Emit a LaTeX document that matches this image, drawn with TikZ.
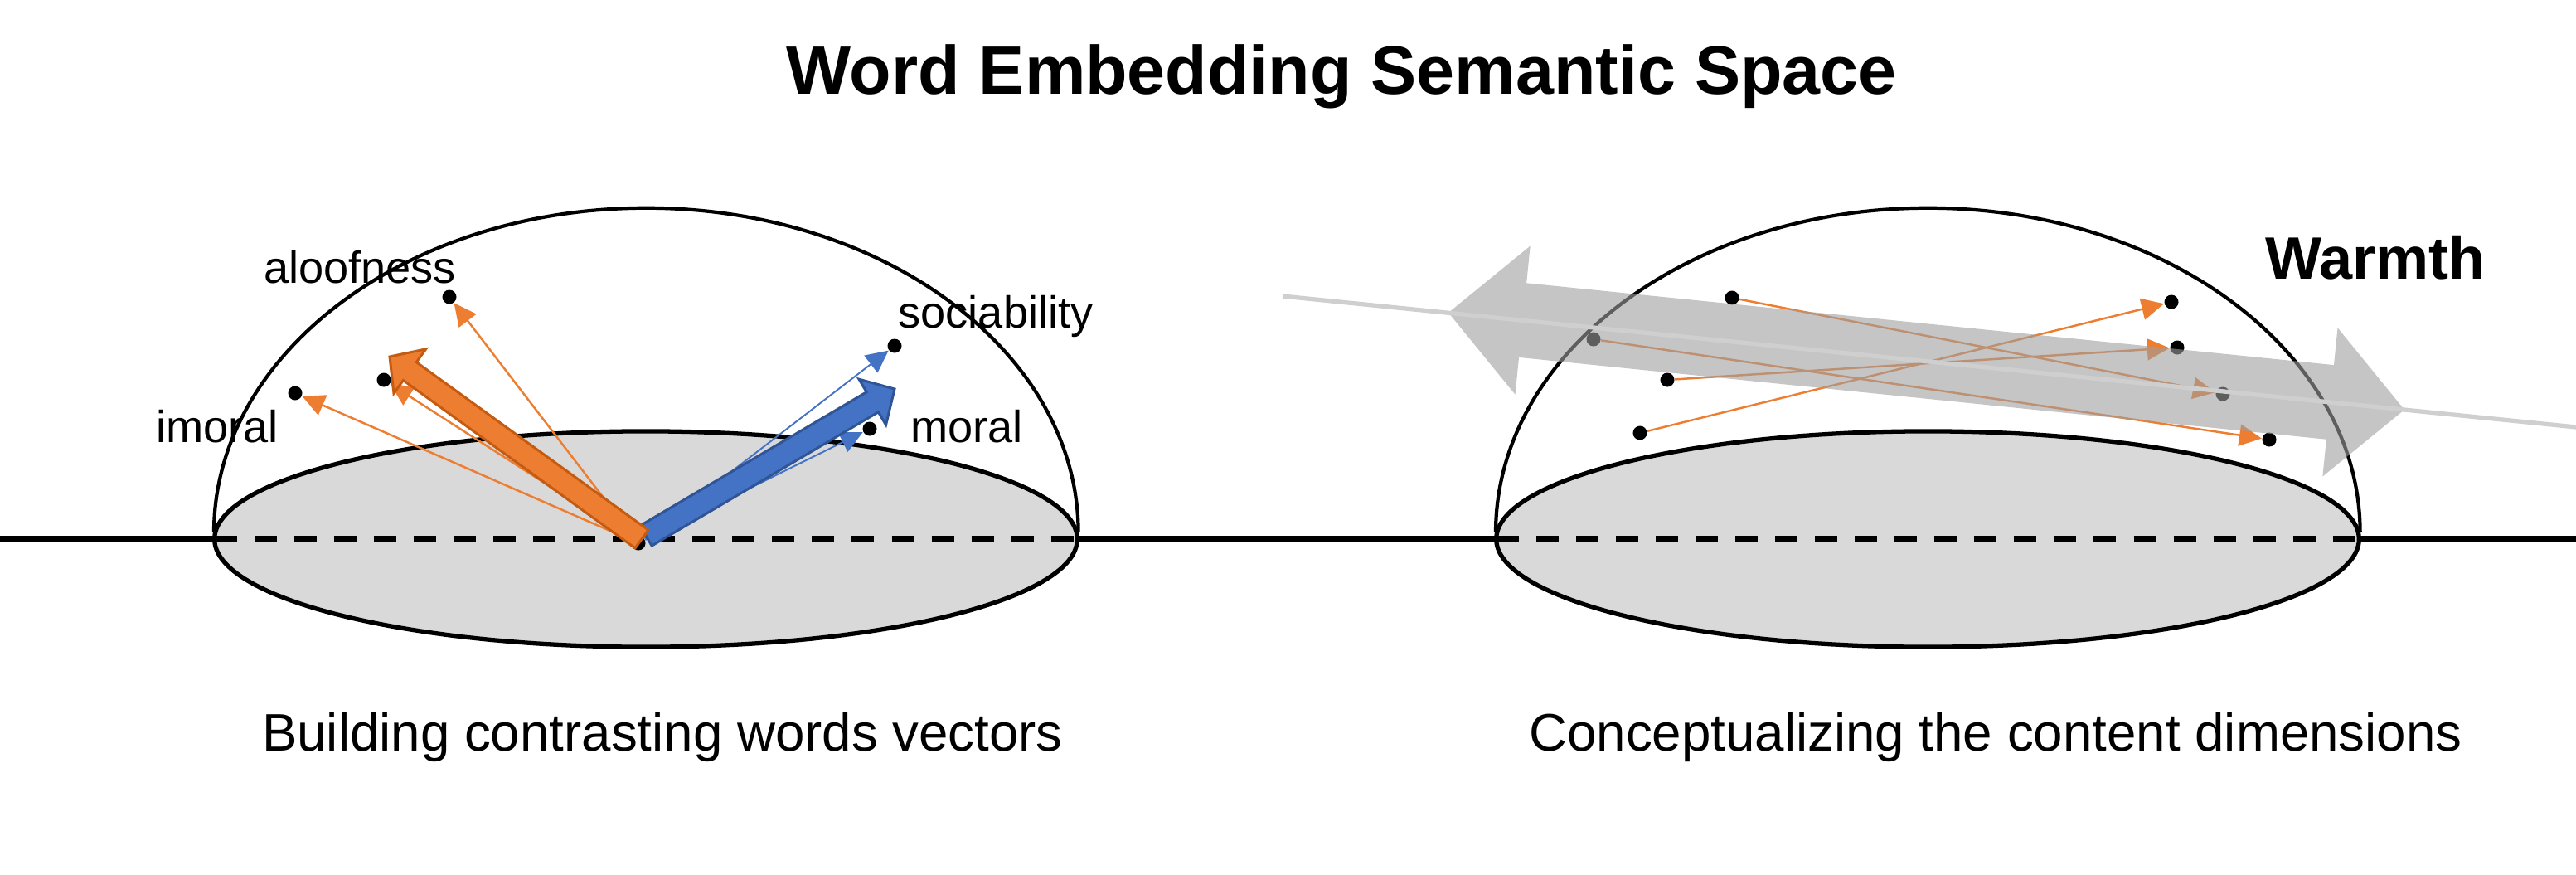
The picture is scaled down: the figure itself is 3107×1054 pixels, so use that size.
\documentclass[tikz,border=0pt]{standalone}
\usepackage{fontspec}
\setmainfont{Liberation Sans}
\usetikzlibrary{arrows.meta, calc}
\definecolor{vec-orange}{HTML}{ED7D31}
\definecolor{vec-orange-dark}{HTML}{C55A11}
\definecolor{vec-blue}{HTML}{4472C4}
\definecolor{vec-blue-dark}{HTML}{2F5597}
\definecolor{plane-grey}{HTML}{D9D9D9}
\definecolor{axis-grey}{HTML}{9E9E9E}
\definecolor{axis-line}{HTML}{CFCFCF}

% fat arrow: style, tail, tip, half shaft, half head, head length
\newcommand{\fatarrow}[6]{%
  \coordinate (fa_base) at ($(#3)!#6!(#2)$);
  \draw[#1] ($(#2)!#4!90:(#3)$) -- ($(fa_base)!#4!90:(#3)$) -- ($(fa_base)!#5!90:(#3)$) -- (#3)
    -- ($(fa_base)!#5!-90:(#3)$) -- ($(fa_base)!#4!-90:(#3)$) -- ($(#2)!#4!-90:(#3)$) -- cycle;
}

\tikzset{%
    dome/.style={%
        draw,
        line width=1.2pt,
    },
    plane/.style={%
        draw,
        fill=plane-grey,
        line width=1.5pt,
    },
    ground/.style={%
        line width=2.1pt,
    },
    hidden/.style={%
        ground,
        dash pattern=on 0.27cm off 0.21cm,
    },
    wdot/.style={%
        circle,
        fill=black,
        inner sep=0pt,
        minimum size=0.17cm,
    },
    thinvec/.style={%
        ->,
        >={Triangle[length=0.27cm, width=0.26cm]},
        line width=0.7pt,
    },
    orangevec/.style={%
        thinvec,
        vec-orange,
    },
    bluevec/.style={%
        thinvec,
        vec-blue,
        line width=0.55pt,
    },
    fatorange/.style={%
        fill=vec-orange,
        draw=vec-orange-dark,
        line width=0.85pt,
    },
    fatblue/.style={%
        fill=vec-blue,
        draw=vec-blue-dark,
        line width=0.85pt,
    },
    dimaxis/.style={%
        fill=axis-grey,
        fill opacity=0.6,
    },
    axisline/.style={%
        draw=axis-line,
        line width=1.5pt,
    },
    wordlabel/.style={%
        inner sep=0pt,
        anchor=base,
        font=\fontsize{15.4}{18}\selectfont,
    },
    dimlabel/.style={%
        inner sep=0pt,
        anchor=base,
        font=\fontsize{20.5}{24}\selectfont\bfseries,
    },
    figcaption/.style={%
        inner sep=0pt,
        anchor=base,
        font=\fontsize{18.1}{22}\selectfont,
    },
    headline/.style={%
        inner sep=0pt,
        anchor=base,
        font=\fontsize{23.5}{28}\selectfont\bfseries,
    },
}

\begin{document}
\begin{tikzpicture}[x=0.01cm, y=-0.01cm]
  \useasboundingbox (0,0) rectangle (3107,1054);

  % the two half spaces
  \foreach \cx in {779, 2325} {
    \draw[plane] (\cx,650) ellipse [x radius=5.2cm, y radius=1.3cm];
    \draw[hidden] (\cx-520,650) -- (\cx+520,650);
    \draw[dome] (\cx-521,642) arc [start angle=180, end angle=0, x radius=5.21cm, y radius=3.91cm];
  }
  \draw[ground] (0,650) -- (259,650) (1299,650) -- (1805,650) (2845,650) -- (3107,650);

  % left: contrasting words
  \node [wdot] at (770,655) (orig) {};
  \node [wdot] at (542,358) (aloof) {};
  \node [wdot] at (356,474) (imor) {};
  \node [wdot] at (463,458) (aloof2) {};
  \node [wdot] at (1079,417) (socia) {};
  \node [wdot] at (1049,517) (mor) {};

  \draw[orangevec] (orig) -- (aloof);
  \draw[orangevec] (orig) -- (imor);
  \draw[orangevec] (orig) -- (aloof2);
  \draw[bluevec] (orig) -- (socia);
  \draw[bluevec] (orig) -- (mor);

  \coordinate (blue_tail) at (779,646);
  \coordinate (blue_tip) at (1079,469);
  \coordinate (orange_tail) at (774,650);
  \coordinate (orange_tip) at (470,430);
  \fatarrow{fatblue}{blue_tail}{blue_tip}{0.14cm}{0.32cm}{0.31cm}
  \fatarrow{fatorange}{orange_tail}{orange_tip}{0.135cm}{0.33cm}{0.3cm}

  \node [wordlabel] at (434,341) (lbl_aloof) {aloofness};
  \node [wordlabel] at (262,533) (lbl_imor) {imoral};
  \node [wordlabel] at (1201,395) (lbl_socia) {sociability};
  \node [wordlabel] at (1166,533) (lbl_mor) {moral};

  % right: content dimension
  \node [wdot] at (2089,359) (w1) {};
  \node [wdot] at (1922,409) (w2) {};
  \node [wdot] at (2011,458) (w3) {};
  \node [wdot] at (1978,522) (w4) {};
  \node [wdot] at (2619,364) (c1) {};
  \node [wdot] at (2626,419) (c2) {};
  \node [wdot] at (2681,475) (c3) {};
  \node [wdot] at (2737,530) (c4) {};

  \draw[orangevec] (w4) -- (c1);
  \draw[orangevec] (w3) -- (c2);
  \draw[orangevec] (w1) -- (c3);
  \draw[orangevec] (w2) -- (c4);

  \coordinate (warm_l) at (1747,377);
  \coordinate (warm_r) at (2900,494);
  \coordinate (warm_lb) at ($(warm_l)!0.9cm!(warm_r)$);
  \coordinate (warm_rb) at ($(warm_r)!0.9cm!(warm_l)$);
  \fill[dimaxis] (warm_l) -- ($(warm_lb)!0.9cm!90:(warm_r)$) -- ($(warm_lb)!0.45cm!90:(warm_r)$)
    -- ($(warm_rb)!0.45cm!-90:(warm_l)$) -- ($(warm_rb)!0.9cm!-90:(warm_l)$) -- (warm_r)
    -- ($(warm_rb)!0.9cm!90:(warm_l)$) -- ($(warm_rb)!0.45cm!90:(warm_l)$)
    -- ($(warm_lb)!0.45cm!-90:(warm_r)$) -- ($(warm_lb)!0.9cm!-90:(warm_r)$) -- cycle;

  \coordinate (axis_start) at (1547,357);
  \coordinate (axis_end) at (3107,515);
  \draw[axisline] (axis_start) -- (axis_end);

  \node [dimlabel] at (2865,336) (lbl_warm) {Warmth};

  % titles
  \node [headline] at (1618,113) (title) {Word Embedding Semantic Space};
  \node [figcaption] at (799,905) (cap_left) {Building contrasting words vectors};
  \node [figcaption] at (2407,905) (cap_right) {Conceptualizing the content dimensions};
\end{tikzpicture}
\end{document}
